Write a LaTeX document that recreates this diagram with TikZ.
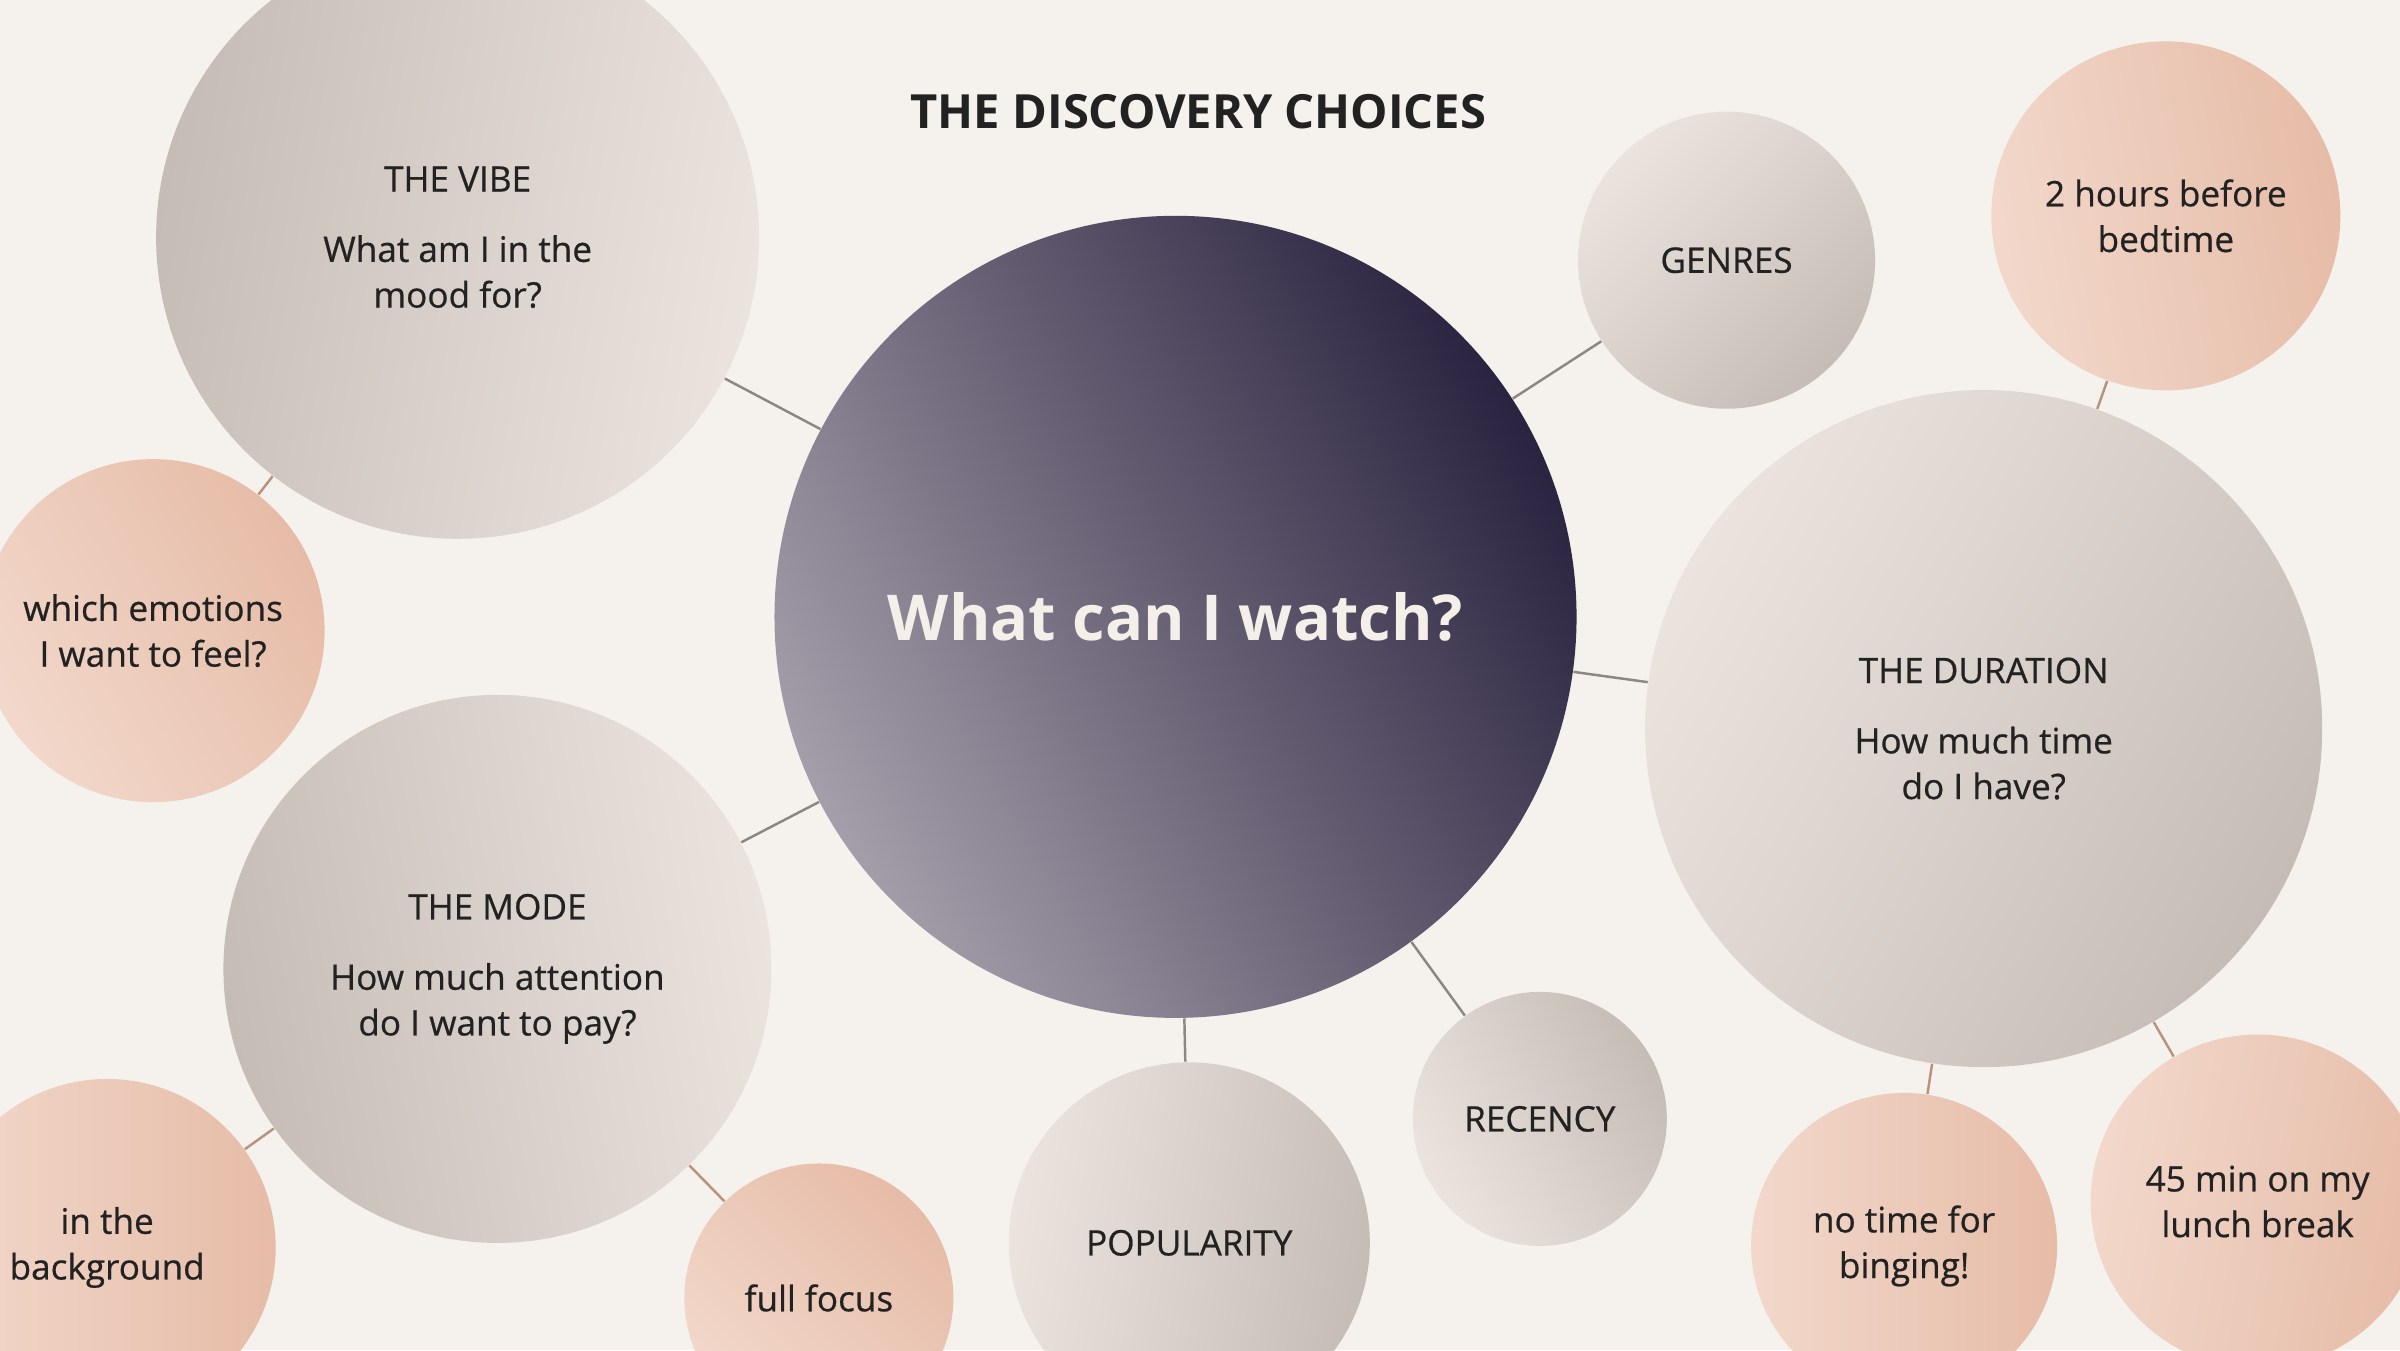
\documentclass[tikz,border=0pt]{standalone}
\usepackage{fontspec}
\setmainfont{Open Sans}
\newfontfamily\mediumfont{Open Sans}[FakeBold=0.6]
\definecolor{paper}{HTML}{F5F1EC}
\definecolor{ink}{HTML}{222222}
\definecolor{cream}{HTML}{F4EFE9}
\definecolor{sanddark}{HTML}{C6BCB6}
\definecolor{sandlight}{HTML}{EBE4DE}
\definecolor{peachdark}{HTML}{E6BCA7}
\definecolor{peachlight}{HTML}{F2D8CB}
\definecolor{nightdark}{HTML}{2B2440}
\definecolor{nightlight}{HTML}{A49EAA}
\definecolor{linkgrey}{HTML}{8C8782}
\definecolor{linkbrown}{HTML}{B9927F}
\tikzset{
  bubble/.style={circle,inner sep=0pt,align=center,text=ink,font=\mediumfont\fontsize{10}{13}\selectfont},
  sand/.style={bubble,top color=sanddark,bottom color=sandlight,shading angle=#1},
  peach/.style={bubble,top color=peachdark,bottom color=peachlight,shading angle=#1},
  link/.style={draw=linkgrey,line width=0.7pt},
  twig/.style={draw=linkbrown,line width=0.7pt}
}
\begin{document}
\begin{tikzpicture}[x=0.015306cm,y=-0.015306cm]
\useasboundingbox (0,0) rectangle (1568,882);
\fill[paper] (0,0) rectangle (1568,882);
\clip (0,0) rectangle (1568,882);
\node[text=ink,font=\bfseries\fontsize{13.4}{15}\selectfont] (title) at (783,73) {THE DISCOVERY CHOICES};
\node[circle,inner sep=0pt,minimum size=8.02cm,top color=nightdark,bottom color=nightlight,shading angle=-60,text=cream,font=\bfseries\fontsize{18}{22}\selectfont] (ask) at (768,403) {What can I watch?};
% main questions
\node[sand=80,minimum size=6.03cm] (vibe) at (299,155) {THE VIBE\\[7pt]What am I in the\\mood for?};
\node[sand=100,minimum size=5.48cm] (mode) at (325,633) {THE MODE\\[7pt]How much attention\\do I want to pay?};
\node[sand=-120,minimum size=6.77cm] (duration) at (1296,476) {THE DURATION\\[7pt]How much time\\do I have?};
\node[sand=-135,minimum size=2.97cm] (genres) at (1128,170) {GENRES};
\node[sand=-60,minimum size=2.54cm] (recent) at (1006,731) {RECENCY};
\node[sand=-100,minimum size=3.61cm] (popular) at (777,812) {POPULARITY};
% answers
\node[peach=-60,minimum size=3.43cm] (feel) at (100,412) {which emotions\\I want to feel?};
\node[peach=-90,minimum size=3.37cm] (bg) at (70,815) {in the\\background};
\node[peach=-45,minimum size=2.69cm] (focus) at (535,848) {full focus};
\node[peach=-80,minimum size=3.49cm] (bedtime) at (1415,141) {2 hours before\\bedtime};
\node[peach=-90,minimum size=3.06cm] (binge) at (1244,814) {no time for\\binging!};
\node[peach=-100,minimum size=3.34cm] (lunch) at (1475,785) {45 min on my\\lunch break};
\foreach \b in {vibe,genres,duration,recent,popular,mode} \draw[link] (ask) -- (\b);
\draw[twig] (vibe) -- (feel);
\foreach \b in {bg,focus} \draw[twig] (mode) -- (\b);
\foreach \b in {bedtime,binge,lunch} \draw[twig] (duration) -- (\b);
\end{tikzpicture}
\end{document}
